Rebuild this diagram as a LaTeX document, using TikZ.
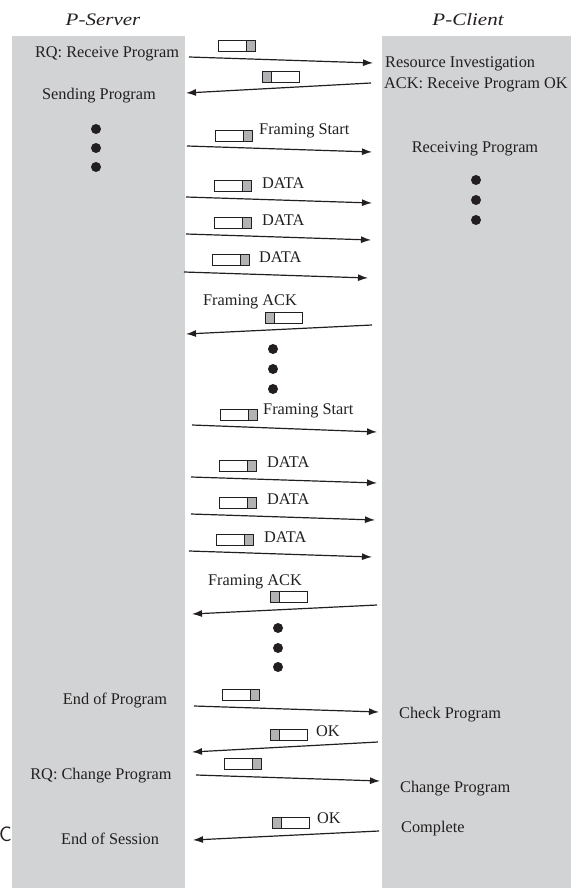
\documentclass[tikz,border=0pt]{standalone}
\usepackage{fontspec}
\setmainfont{Liberation Serif}
\usetikzlibrary{arrows.meta}
\definecolor{lane}{RGB}{209,211,212}
\definecolor{ink}{RGB}{35,31,32}
\definecolor{tag}{RGB}{178,178,180}
\tikzset{
  lbl/.style={inner sep=0pt, text=ink, font=\fontsize{16.3}{18}\selectfont},
  head/.style={inner sep=0pt, text=ink, font=\fontsize{17.5}{20}\selectfont\itshape},
  msg/.style={draw=ink, line width=1.2pt, -{Latex[length=10pt,width=7pt]}},
  pkt/.style={draw=ink, line width=0.9pt, fill=white, inner sep=0pt,
    minimum width=37pt, minimum height=11pt},
  pktR/.style={pkt, path picture={
      \fill[tag] ([xshift=-9pt]path picture bounding box.south east) rectangle (path picture bounding box.north east);
      \draw[ink, line width=0.9pt] ([xshift=-9pt]path picture bounding box.south east) -- ([xshift=-9pt]path picture bounding box.north east);}},
  pktL/.style={pkt, path picture={
      \fill[tag] (path picture bounding box.south west) rectangle ([xshift=9pt]path picture bounding box.north west);
      \draw[ink, line width=0.9pt] ([xshift=9pt]path picture bounding box.south west) -- ([xshift=9pt]path picture bounding box.north west);}},
  dot/.style={circle, fill=ink, inner sep=0pt, minimum size=10pt},
}
\begin{document}
\begin{tikzpicture}[x=1pt, y=-1pt]
\useasboundingbox (0,0) rectangle (570,890);
% swim lanes
\fill[lane] (12,36) rectangle (185,888);
\fill[lane] (382,36) rectangle (575,888);
\node[head] (hs) at (103,20) {\scalebox{1.2}[1]{P-Server}};
\node[head] (hc) at (468,20) {\scalebox{1.2}[1]{P-Client}};
\node[inner sep=0pt, text=ink, font=\sffamily\fontsize{21}{22}\selectfont, anchor=east] (cut) at (12,834) {C};

% server side states
\node[lbl] (s1) at (107,54) {RQ: Receive Program};
\node[lbl] (s2) at (99,96) {Sending Program};
\node[lbl] (s3) at (115,701) {End of Program};
\node[lbl] (s4) at (101,776) {RQ: Change Program};
\node[lbl] (s5) at (110,839) {End of Session};
\node[dot] (sd1) at (96,129) {};
\node[dot] (sd2) at (96,148) {};
\node[dot] (sd3) at (96,167) {};

% client side states
\node[lbl, anchor=west] (c1) at (385,64) {Resource Investigation};
\node[lbl, anchor=west] (c2) at (384,85) {ACK: Receive Program OK};
\node[lbl] (c3) at (475,149) {Receiving Program};
\node[lbl, anchor=west] (c4) at (399,715) {Check Program};
\node[lbl, anchor=west] (c5) at (400,789) {Change Program};
\node[lbl, anchor=west] (c6) at (401,829) {Complete};
\node[dot] (cd1) at (476,180) {};
\node[dot] (cd2) at (476,200) {};
\node[dot] (cd3) at (476,220) {};

% dots between the framing blocks
\node[dot] (m1) at (273,349) {};
\node[dot] (m2) at (273,369) {};
\node[dot] (m3) at (273,389) {};
\node[dot] (n1) at (278,628) {};
\node[dot] (n2) at (278,648) {};
\node[dot] (n3) at (278,667) {};

% packets
\node[pktR] (p1) at (236.5,46) {};
\node[pktL] (p2) at (281,77) {};
\node[pktR] (p3) at (234,136) {};
\node[lbl, anchor=west] (t3) at (259,131) {Framing Start};
\node[pktR] (p4) at (232.5,186) {};
\node[lbl, anchor=west] (t4) at (262,183) {DATA};
\node[pktR] (p5) at (232.5,223) {};
\node[lbl, anchor=west] (t5) at (262,220) {DATA};
\node[pktR] (p6) at (230.5,260) {};
\node[lbl, anchor=west] (t6) at (259,257) {DATA};
\node[lbl] (t7) at (250,302) {Framing ACK};
\node[pktL] (p7) at (283.5,317.5) {};
\node[pktR] (p8) at (239,414.5) {};
\node[lbl, anchor=west] (t8) at (263,411) {Framing Start};
\node[pktR] (p9) at (237.5,465.5) {};
\node[lbl, anchor=west] (t9) at (267,462) {DATA};
\node[pktR] (p10) at (237.5,502.5) {};
\node[lbl, anchor=west] (t10) at (267,499) {DATA};
\node[pktR] (p11) at (235,539.5) {};
\node[lbl, anchor=west] (t11) at (264,537) {DATA};
\node[lbl] (t12) at (255,582) {Framing ACK};
\node[pktL] (p12) at (288.5,596.5) {};
\node[pktR] (p13) at (241,695) {};
\node[pktL] (p14) at (289,734.5) {};
\node[lbl, anchor=west] (t14) at (316,731) {OK};
\node[pktR] (p15) at (242.5,763.5) {};
\node[pktL] (p16) at (290.5,822.5) {};
\node[lbl, anchor=west] (t16) at (317,818) {OK};

% arrow end points
\coordinate (a1s) at (189,57);  \coordinate (a1e) at (373,63);
\coordinate (a2s) at (371,83);  \coordinate (a2e) at (186,93);
\coordinate (a3s) at (187,146); \coordinate (a3e) at (372,152);
\coordinate (a4s) at (186,197); \coordinate (a4e) at (372,203);
\coordinate (a5s) at (186,234); \coordinate (a5e) at (371,240);
\coordinate (a6s) at (184,272); \coordinate (a6e) at (368,278);
\coordinate (a7s) at (372,325); \coordinate (a7e) at (186,334);
\coordinate (a8s) at (192,425); \coordinate (a8e) at (377,432);
\coordinate (a9s) at (191,477); \coordinate (a9e) at (377,483);
\coordinate (a10s) at (191,514); \coordinate (a10e) at (375,520);
\coordinate (a11s) at (189,551); \coordinate (a11e) at (372,557);
\coordinate (a12s) at (377,605); \coordinate (a12e) at (192,614);
\coordinate (a13s) at (194,706); \coordinate (a13e) at (379,712);
\coordinate (a14s) at (378,742); \coordinate (a14e) at (192,752);
\coordinate (a15s) at (196,775); \coordinate (a15e) at (380,781);
\coordinate (a16s) at (379,831); \coordinate (a16e) at (193,840);

\foreach \i in {1,...,16} \draw[msg] (a\i s) -- (a\i e);
\end{tikzpicture}
\end{document}
